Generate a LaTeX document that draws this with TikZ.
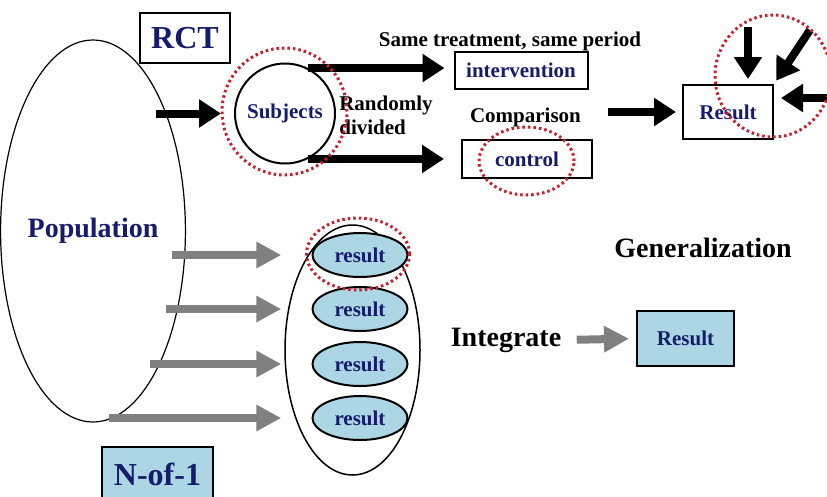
\documentclass[tikz,border=0pt]{standalone}
\usepackage{fontspec}
\setmainfont{Liberation Serif}
\usepackage{xcolor}
\usetikzlibrary{arrows.meta,shapes.geometric,calc}

\definecolor{ink}{RGB}{22,28,108}
\definecolor{paleblue}{RGB}{172,214,228}
\definecolor{dotred}{RGB}{200,30,45}
\definecolor{arrgrey}{RGB}{128,128,128}

\begin{document}
\begin{tikzpicture}[
  x=1pt, y=-1pt,
  every node/.style={font=\fontsize{21}{24}\selectfont\bfseries},
  box/.style={draw, line width=2pt, inner sep=0pt, text=ink},
  oval/.style={draw, ellipse, inner sep=0pt},
  ring/.style={draw=dotred, ellipse, line width=3pt,
    dash pattern=on 2.5pt off 3pt, inner sep=0pt},
  big/.style={font=\fontsize{28}{32}\selectfont\bfseries},
  huge/.style={font=\fontsize{32}{36}\selectfont\bfseries},
  arr/.style={-{Triangle[length=22pt, width=27pt]}, line width=8pt},
  garr/.style={-{Triangle[length=25pt, width=25pt]}, line width=8pt, arrgrey}
]
  \useasboundingbox (0,0) rectangle (827,496);
  \fill[white] (0,0) rectangle (827,496);

  \node[oval, line width=1.2pt, minimum width=160pt, minimum height=382pt,
    big, text=ink] (pop) at (93,231) {Population};
  \node[box, huge, minimum width=90pt, minimum height=50pt] (rct) at (185,38) {RCT};
  \node[oval, circle, line width=2pt, minimum size=100pt, text=ink] (subj) at (285,113.5) {Subjects};
  \node[align=left, inner sep=0pt] (rand) at (386,115) {Randomly\\divided};
  \node (same) at (510,41) {Same treatment, same period};
  \node[box, minimum width=133pt, minimum height=37pt] (interv) at (521,70.5) {intervention};
  \node (cmp) at (525.5,117) {Comparison};
  \node[box, minimum width=130pt, minimum height=38pt] (ctrl) at (527,159) {control};
  \node[box, minimum width=90pt, minimum height=54pt] (res) at (728,112) {Result};

  \node[oval, line width=1.5pt, minimum width=135pt, minimum height=250pt] (pile) at (352.5,350) {};
  \foreach \i/\y in {1/255,2/309,3/364,4/418}
    \node[oval, line width=2pt, fill=paleblue, minimum width=95pt,
      minimum height=44pt, text=ink] (r\i) at (360,\y) {result};
  \node[box, huge, fill=paleblue, minimum width=111pt, minimum height=54pt] (nof) at (157.5,474) {N-of-1};
  \node[big] (integ) at (506,340) {Integrate};
  \node[box, fill=paleblue, minimum width=97pt, minimum height=55pt] (resB) at (685.5,338.5) {Result};
  \node[big] (gen) at (703,248) {Generalization};

  \coordinate (p0) at ($(pop.center |- subj)+(63,0)$);
  \foreach \i/\dx in {1/79.4,2/73,3/57.4,4/16.3}
    \coordinate (g\i) at ($(pop.center |- r\i)+(\dx,0)$);
  \coordinate (toRes) at (608,112);
  \coordinate (in1) at (748,27);
  \coordinate (in2) at (810,30);
  \coordinate (in3) at (832,98);

  \draw[arr, shorten >=13pt] (p0) -- (p0 -| subj.west);
  \draw[arr, shorten >=9pt] (subj.63) -- (subj.63 -| interv.west);
  \draw[arr, shorten >=17pt] (subj.-63) -- (subj.-63 -| ctrl.west);
  \draw[arr, shorten >=6pt] (toRes) -- (res.west);
  \draw[arr, shorten >=5pt] (in1) -- (in1 |- res.north);
  \draw[arr, shorten >=4pt] (in2) -- (res.north east);
  \draw[arr, shorten >=7pt] (in3) -- (in3 -| res.east);

  \foreach \i in {1,...,4}
    \draw[garr, shorten >=3pt] (g\i) -- (g\i -| pile.west);
  \draw[garr, shorten <=12pt, shorten >=7pt] (integ.east) -- (resB.west);

  \node[ring, minimum width=125pt, minimum height=127pt] (subjring) at (284.5,111.5) {};
  \node[ring, minimum width=95pt, minimum height=68pt] (ctrlring) at (526.5,161) {};
  \node[ring, minimum width=116pt, minimum height=122pt] (resring) at (773,76) {};
  \node[ring, minimum width=103pt, minimum height=72pt] (r1ring) at (358,254) {};
\end{tikzpicture}
\end{document}
